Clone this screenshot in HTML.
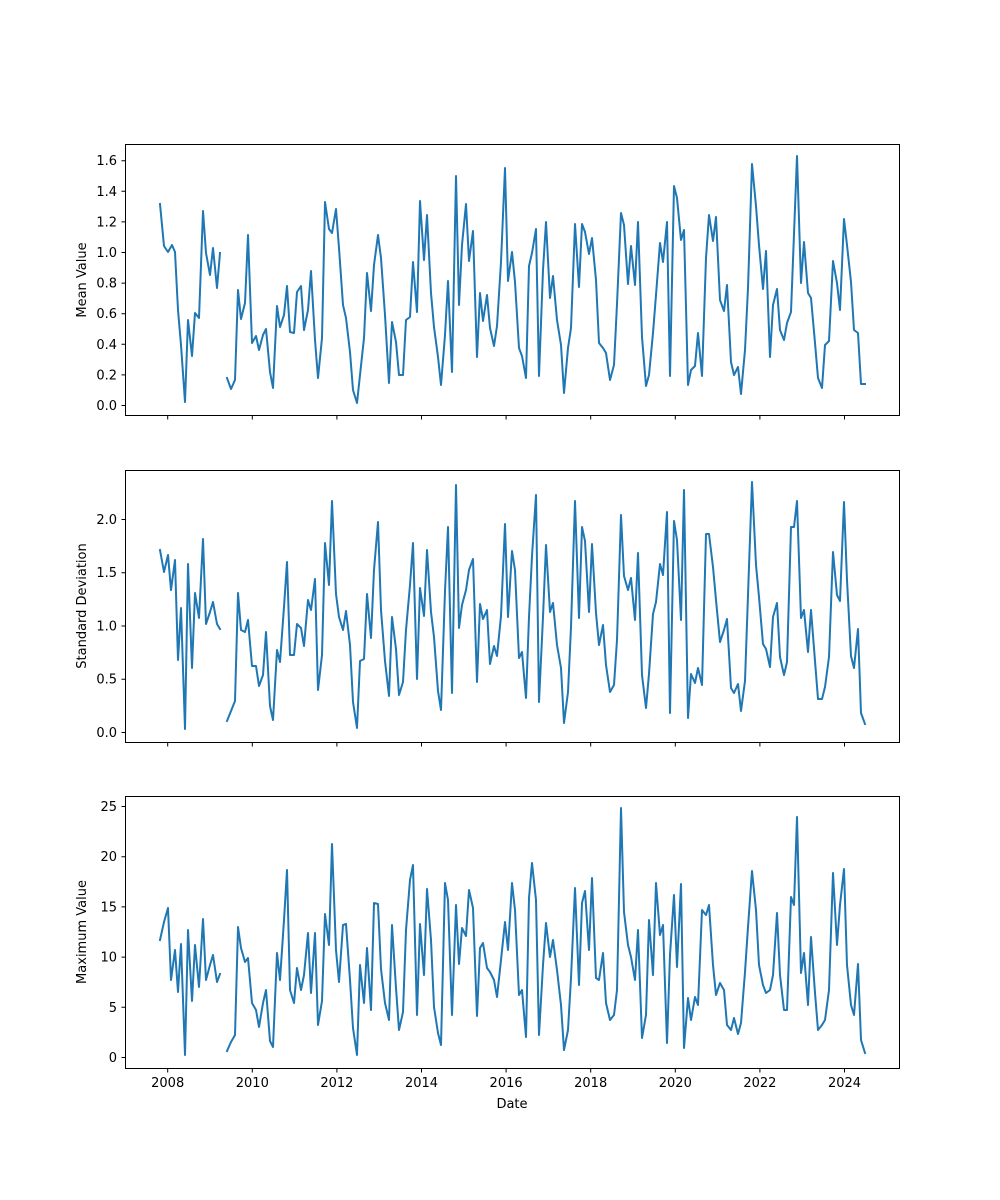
<!DOCTYPE html>
<html><head><meta charset="utf-8"><style>
html,body{margin:0;padding:0;background:#fff}
svg{display:block}
text{font-family:"DejaVu Sans","Liberation Sans",sans-serif;font-size:13px;fill:#000}
.ax{fill:none;stroke:#000;stroke-width:1}
.ln{fill:none;stroke:#1f77b4;stroke-width:2;stroke-linejoin:round;stroke-linecap:square}
</style></head><body>
<svg width="1000" height="1200" viewBox="0 0 1000 1200" xmlns="http://www.w3.org/2000/svg">
<!-- axes frames -->
<rect class="ax" x="125.5" y="144.5" width="774" height="271"/>
<rect class="ax" x="125.5" y="470.5" width="774" height="272"/>
<rect class="ax" x="125.5" y="796.5" width="774" height="272"/>

<!-- x ticks -->
<g stroke="#000" stroke-width="1">
<path d="M167.7 415.5v4M252.3 415.5v4M336.9 415.5v4M421.5 415.5v4M506.1 415.5v4M590.7 415.5v4M675.3 415.5v4M759.9 415.5v4M844.5 415.5v4"/>
<path d="M167.7 742.5v4M252.3 742.5v4M336.9 742.5v4M421.5 742.5v4M506.1 742.5v4M590.7 742.5v4M675.3 742.5v4M759.9 742.5v4M844.5 742.5v4"/>
<path d="M167.7 1068.5v4M252.3 1068.5v4M336.9 1068.5v4M421.5 1068.5v4M506.1 1068.5v4M590.7 1068.5v4M675.3 1068.5v4M759.9 1068.5v4M844.5 1068.5v4"/>
<!-- y ticks top -->
<path d="M125.5 405.5h-4M125.5 374.9h-4M125.5 344.3h-4M125.5 313.7h-4M125.5 283.1h-4M125.5 252.5h-4M125.5 221.9h-4M125.5 191.3h-4M125.5 160.7h-4"/>
<path d="M125.5 732.5h-4M125.5 679.2h-4M125.5 626h-4M125.5 572.7h-4M125.5 519.5h-4"/>
<path d="M125.5 1057.5h-4M125.5 1007.3h-4M125.5 957.1h-4M125.5 906.9h-4M125.5 856.7h-4M125.5 806.5h-4"/>
</g>
<g text-anchor="middle">
<text x="167.7" y="1087">2008</text><text x="252.3" y="1087">2010</text><text x="336.9" y="1087">2012</text><text x="421.5" y="1087">2014</text><text x="506.1" y="1087">2016</text><text x="590.7" y="1087">2018</text><text x="675.3" y="1087">2020</text><text x="759.9" y="1087">2022</text><text x="844.5" y="1087">2024</text>
<text x="512" y="1108">Date</text>
</g>
<g text-anchor="end">
<text x="117" y="410">0.0</text><text x="117" y="379.4">0.2</text><text x="117" y="348.8">0.4</text><text x="117" y="318.2">0.6</text><text x="117" y="287.6">0.8</text><text x="117" y="257">1.0</text><text x="117" y="226.4">1.2</text><text x="117" y="195.8">1.4</text><text x="117" y="165.2">1.6</text>
<text x="117" y="737">0.0</text><text x="117" y="683.7">0.5</text><text x="117" y="630.5">1.0</text><text x="117" y="577.2">1.5</text><text x="117" y="524">2.0</text>
<text x="117" y="1062">0</text><text x="117" y="1011.8">5</text><text x="117" y="961.6">10</text><text x="117" y="911.4">15</text><text x="117" y="861.2">20</text><text x="117" y="811">25</text>
</g>
<text transform="translate(86,280) rotate(-90)" text-anchor="middle">Mean Value</text>
<text transform="translate(86,606) rotate(-90)" text-anchor="middle">Standard Deviation</text>
<text transform="translate(86,932) rotate(-90)" text-anchor="middle">Maximum Value</text>

<polyline class="ln" points="160,204 164,246 168,252 172,245 175,252 178,310 181,345 185,402 188,320 192,356 195,313 199,318 203,211 206,253 210,275 213,248 217,288 220,253"/>
<polyline class="ln" points="227,378 231,389 235,380 238,290 241,319 245,303 248,235 252,343 256,336 259,350 263,335 266,329 270,372 273,388 277,306 280,327 284,315 287,286 290,332 294,333 297,292 301,286 304,330 308,310 311,271 315,340 318,378 322,338 325,202 329,229 332,233 336,209 339,248 343,305 346,318 350,352 353,390 357,403 360,375 364,338 367,273 371,311 374,265 378,235 381,258 385,315 389,383 392,322 396,342 399,375 403,375 406,320 410,317 413,262 417,312 420,201 424,260 427,215 431,293 434,327 438,357 441,385 445,335 448,281 452,372 456,176 459,305 462,245 466,204 469,261 473,231 477,357 480,293 483,321 487,295 490,328 494,346 497,326 501,262 505,168 508,281 512,252 515,282 519,348 522,356 526,378 529,266 532,253 536,229 539,376 543,270 546,222 550,298 553,276 557,320 561,345 564,393 568,348 571,328 575,224 579,287 582,224 585,232 589,254 592,238 596,280 599,343 603,348 606,353 610,380 614,365 617,304 621,213 624,225 628,284 631,246 635,285 638,222 642,337 646,386 649,375 653,333 656,295 660,243 663,262 667,222 670,376 674,186 677,198 681,240 684,230 688,385 691,370 695,366 698,333 702,376 706,258 709,215 713,241 716,217 720,300 724,311 727,285 731,362 734,375 738,367 741,394 745,350 748,288 752,164 756,206 759,245 763,289 766,251 770,357 773,305 777,289 780,330 784,340 787,323 791,312 797,156 801,283 804,242 808,293 811,298 815,343 818,378 822,388 825,345 829,341 833,261 837,283 840,310 844,219 847,245 851,282 854,330 858,333 861,384 865,384"/>

<polyline class="ln" points="160,550 164,572 168,555 171,590 175,560 178,660 181,608 185,729 188,564 192,668 195,593 199,618 203,539 206,624 210,612 213,602 217,624 220,629"/>
<polyline class="ln" points="227,721 231,711 235,701 238,593 241,630 245,632 248,620 252,666 256,666 259,686 263,675 266,632 270,706 273,720 277,650 280,662 284,607 287,562 290,655 294,655 297,624 301,628 304,646 308,600 311,610 315,579 318,690 322,655 325,543 329,585 332,501 336,594 339,617 343,630 346,611 350,645 353,702 357,728 360,661 364,659 367,594 371,638 374,570 378,522 381,610 385,661 389,696 392,617 396,649 399,695 403,682 406,630 410,585 413,543 417,679 420,588 424,616 427,550 431,612 434,637 438,691 441,710 445,591 448,527 452,693 456,485 459,628 462,605 466,590 469,570 473,559 477,682 480,604 483,619 487,610 490,664 494,646 497,656 501,616 505,524 508,617 512,551 515,570 519,658 522,652 526,698 529,617 532,556 536,495 539,702 543,617 546,545 550,612 553,603 557,645 561,668 564,723 568,692 571,627 575,501 579,618 582,527 585,541 589,612 592,544 596,613 599,645 603,625 606,665 610,692 614,685 617,640 621,515 624,576 628,590 631,578 635,620 638,553 642,675 646,708 649,674 653,614 656,602 660,564 663,575 667,512 670,713 674,521 677,540 681,620 684,490 688,718 691,674 695,683 698,668 702,685 706,534 709,534 713,567 716,600 720,642 724,630 727,619 731,688 734,693 738,684 741,711 745,681 748,595 752,482 756,565 759,597 763,644 766,649 770,667 773,617 777,603 780,657 784,675 787,662 791,527 794,527 797,501 801,618 804,610 808,652 811,610 815,661 818,699 822,699 825,687 829,657 833,552 837,595 840,601 844,502 847,580 851,656 854,668 858,629 861,713 865,724"/>

<polyline class="ln" points="160,940 164,922 168,908 171,980 175,950 178,992 181,944 185,1055 188,930 192,1001 195,945 199,987 203,919 206,980 210,965 213,955 217,982 220,974"/>
<polyline class="ln" points="227,1051 231,1042 235,1035 238,927 241,948 245,962 248,958 252,1003 256,1010 259,1027 263,1003 266,990 270,1041 273,1047 277,953 280,980 284,920 287,870 290,990 294,1003 297,968 301,990 304,975 308,933 311,993 315,933 318,1025 322,1001 325,914 329,945 332,844 336,950 339,982 343,925 346,924 350,980 353,1028 357,1055 360,965 364,1003 367,948 371,1010 374,903 378,904 381,969 385,1003 389,1020 392,925 396,988 399,1030 403,1012 406,930 410,880 413,865 417,1015 420,924 424,975 427,889 431,940 434,1007 438,1033 441,1045 445,883 448,900 452,1015 456,905 459,964 462,928 466,936 469,890 473,908 477,1016 480,948 483,943 487,968 490,972 494,980 497,997 501,960 505,922 508,950 512,883 515,910 519,995 522,990 526,1037 529,898 532,863 536,900 539,1035 543,965 546,923 550,957 553,940 557,970 561,1005 564,1050 568,1030 571,978 575,888 579,985 582,903 585,891 589,950 592,878 596,978 599,980 603,953 606,1003 610,1020 614,1015 617,990 621,808 624,912 628,945 631,957 635,980 638,930 642,1038 646,1015 649,920 653,975 656,883 660,935 663,925 667,1043 670,955 674,895 677,967 681,884 684,1048 688,998 691,1020 695,997 698,1005 702,910 706,915 709,905 713,965 716,995 720,983 724,990 727,1025 731,1030 734,1018 738,1034 741,1023 745,972 748,927 752,871 756,910 759,965 763,985 766,993 770,990 773,975 777,913 780,975 784,1010 787,1010 791,897 794,905 797,817 801,973 804,953 808,1005 811,937 815,993 818,1030 822,1025 825,1020 829,990 833,873 837,945 840,905 844,869 847,965 851,1005 854,1015 858,964 861,1040 865,1053"/>
</svg>
</body></html>
